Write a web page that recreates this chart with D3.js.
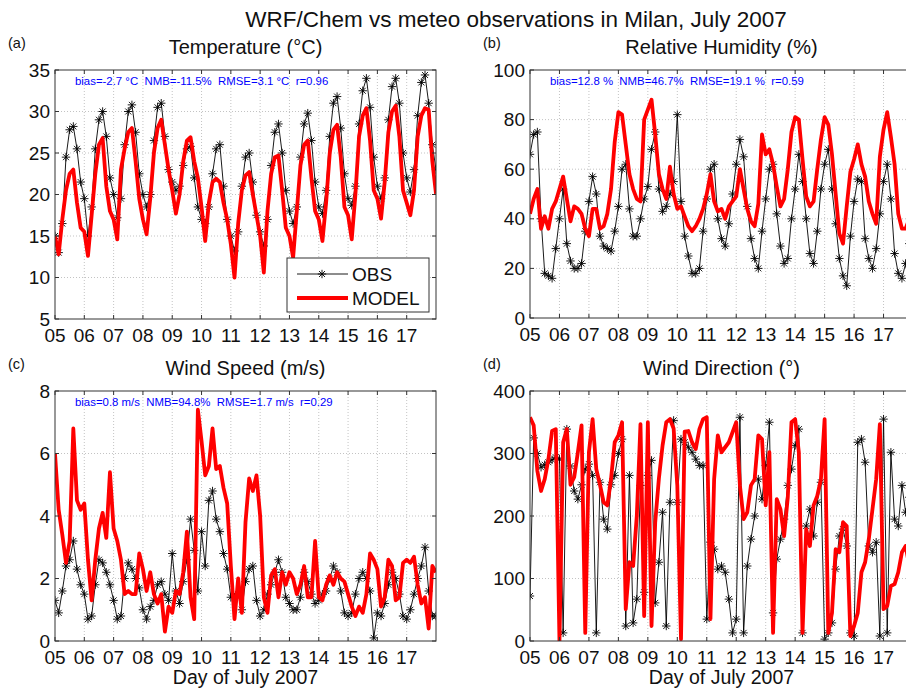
<!DOCTYPE html>
<html><head><meta charset="utf-8">
<script src="https://cdn.jsdelivr.net/npm/d3@7"></script>
<style>body{margin:0;background:#fff} svg{display:block} text{font-family:"Liberation Sans",Arial,sans-serif} .pre{white-space:pre}</style>
</head><body><svg id="chart" width="906" height="690"></svg>
<script>
// ---- data (3-hourly samples starting at 5 July 00h) ----
const startDay = 5;
const stepDay = 0.125;
const dayTicks = [5,6,7,8,9,10,11,12,13,14,15,16,17];
const dayTickLabels = ["05","06","07","08","09","10","11","12","13","14","15","16","17"];

const tempObs = [
 15.0,13.0,16.5,24.5,27.8,28.2,25.5,21.5,
 19.5,15.0,18.5,25.5,29.0,30.0,27.0,22.0,
 20.0,17.2,19.5,26.0,30.0,30.8,27.5,22.5,
 20.0,18.5,20.0,26.5,30.5,31.0,27.0,23.0,
 21.5,20.5,21.0,23.5,25.5,25.8,22.0,18.5,
 17.0,16.5,18.5,22.5,25.5,26.0,21.0,17.0,
 15.0,13.2,15.5,21.0,24.5,25.0,21.5,17.5,
 15.5,13.8,17.0,23.5,27.5,28.5,25.0,20.5,
 18.0,16.5,18.5,24.5,28.5,29.8,26.5,21.5,
 18.5,17.7,20.5,27.0,31.0,31.8,28.0,22.5,
 19.5,18.7,21.0,28.5,32.5,34.0,30.5,24.5,
 21.0,19.5,22.0,29.0,33.0,34.0,31.0,25.0,
 22.0,20.3,23.0,29.5,33.5,34.4,31.0,26.0,
 23.0];
const tempMod = [
 15.0,12.8,17.0,20.5,22.5,23.0,19.0,16.0,
 15.5,12.6,17.5,22.5,26.0,26.8,21.0,18.0,
 17.0,14.6,23.0,25.5,27.5,28.0,24.0,19.5,
 17.0,15.2,19.5,25.0,28.0,29.0,26.0,23.0,
 20.5,17.7,20.0,24.0,26.5,26.9,24.0,22.0,
 18.5,14.4,19.0,21.5,21.9,21.5,19.0,17.0,
 14.0,10.0,16.5,20.5,22.3,22.7,20.0,17.5,
 15.0,10.6,18.0,22.5,24.5,24.7,20.5,16.0,
 15.0,12.4,18.0,23.5,26.0,26.5,22.0,18.0,
 17.0,14.4,19.0,25.0,27.8,28.4,24.5,18.5,
 17.5,14.6,20.0,27.0,29.5,30.4,26.5,20.5,
 19.5,17.1,21.5,27.5,30.0,30.7,27.0,20.5,
 19.0,17.5,20.5,27.0,29.5,30.4,30.2,24.0,
 20.1];

const rhObs = [
 66,74,75,40,18,17,16,28,
 40,52,30,23,20,20,22,35,
 47,57,50,33,29,28,27,35,
 45,60,62,44,33,33,40,48,
 53,68,75,52,43,45,50,55,
 82,47,33,25,18,18,20,35,
 48,60,62,40,32,29,38,50,
 62,72,65,45,32,24,20,35,
 48,60,62,42,29,22,24,40,
 52,66,55,40,26,22,35,52,
 62,68,52,38,24,17,13,33,
 47,56,55,32,24,20,28,42,
 55,62,48,26,18,16,22,30,
 38];
const rhMod = [
 42,48,52,36,41,36,44,47,
 52,57,48,39,45,44,42,36,
 33,44,44,36,37,42,52,71,
 83,82,70,58,52,48,47,80,
 84,88,74,58,52,48,61,50,
 44,45,41,37,35,37,40,44,
 50,58,47,43,44,40,45,47,
 49,60,52,44,39,37,46,74,
 66,68,62,53,45,48,60,75,
 81,80,64,49,45,47,60,72,
 81,78,66,50,34,30,45,59,
 64,70,62,57,47,42,38,65,
 76,83,73,62,42,36,36,40,
 44];

const wsObs = [
 1.3,0.9,1.6,2.4,2.6,3.2,2.3,1.8,
 1.5,0.7,0.8,1.8,2.6,2.5,2.2,1.8,
 1.3,0.7,0.8,2.0,2.5,2.3,2.0,1.7,
 1.0,0.7,1.1,1.3,1.8,1.9,1.5,1.3,
 2.8,1.6,1.2,1.9,2.6,3.9,2.9,1.6,
 3.5,2.4,4.5,4.8,3.9,3.5,2.8,2.3,
 1.4,1.4,1.5,1.0,1.9,2.3,2.4,1.3,
 0.8,1.0,1.5,1.8,2.2,2.6,2.2,1.4,
 1.2,1.0,1.0,1.4,2.2,1.9,1.5,1.2,
 1.3,1.5,1.6,2.0,2.4,2.2,1.6,0.9,
 0.8,0.9,1.5,2.0,2.2,2.0,1.6,0.1,
 0.9,0.8,1.2,1.8,2.2,2.0,1.5,0.8,
 0.7,1.0,1.5,2.0,2.4,3.0,1.6,0.8,
 0.8];
const wsMod = [
 6.0,4.2,3.4,2.5,3.2,6.8,4.5,4.2,
 4.4,2.6,1.3,2.6,3.6,4.1,3.3,5.4,
 3.6,3.2,2.6,1.5,1.6,1.5,1.5,2.8,
 2.3,1.6,2.2,1.5,1.2,1.5,0.3,1.1,
 0.9,1.6,1.5,2.2,3.5,1.4,0.7,7.4,
 6.4,5.3,5.6,6.8,5.5,5.6,4.9,4.4,
 2.4,0.7,2.0,0.9,3.8,5.2,4.8,5.3,
 4.0,1.4,0.9,2.1,2.3,1.4,2.2,1.8,
 2.2,2.0,1.5,1.8,2.4,1.4,1.4,3.2,
 1.4,1.3,1.8,2.1,1.8,2.2,2.0,1.9,
 1.5,1.1,0.8,1.1,0.9,1.5,2.8,2.6,
 2.3,1.1,1.4,2.6,2.4,1.3,1.4,2.5,
 2.6,2.5,2.7,1.8,1.2,1.4,0.4,2.4,
 2.2];

const wdObs = [
 72,325,300,278,282,286,290,294,
 291,13,339,280,240,227,250,275,
 283,265,13,254,195,179,250,265,
 300,323,24,265,29,67,249,78,
 265,289,61,126,206,24,222,353,
 222,323,318,310,302,291,281,281,
 35,158,147,115,120,110,67,13,
 35,358,13,120,163,200,259,227,
 281,350,45,131,163,195,249,275,
 313,339,13,184,211,168,222,254,
 3,13,29,115,168,179,152,13,
 8,318,323,286,152,142,158,8,
 355,13,302,195,184,249,206,230,
 250];
const wdMod = [
 358,345,272,240,259,291,336,339,
 0,318,339,250,262,302,345,13,
 302,355,275,250,222,217,259,318,
 329,350,51,126,120,200,347,40,
 350,24,190,260,313,350,355,340,
 249,3,335,336,318,307,339,355,
 358,35,259,329,302,310,318,334,
 350,249,195,206,249,259,329,323,
 217,302,13,227,211,168,230,350,
 355,302,13,179,152,217,232,259,
 355,13,45,147,142,190,184,8,
 24,45,110,126,163,211,259,347,
 51,56,88,91,110,142,152,120,
 40];

// ---- layout / style config ----
const panels = [
  {label:"(a)", title:"Temperature (°C)", obs:tempObs, mod:tempMod,
   y:[5,35], yTicks:[5,10,15,20,25,30,35],
   stats:"bias=-2.7 °C  NMB=-11.5%  RMSE=3.1 °C  r=0.96",
   x0:55, y0:70, w:381, h:249, legend:true, xlabel:false},
  {label:"(b)", title:"Relative Humidity (%)", obs:rhObs, mod:rhMod,
   y:[0,100], yTicks:[0,20,40,60,80,100],
   stats:"bias=12.8 %  NMB=46.7%  RMSE=19.1 %  r=0.59",
   x0:530, y0:70, w:383, h:248, legend:false, xlabel:false},
  {label:"(c)", title:"Wind Speed (m/s)", obs:wsObs, mod:wsMod,
   y:[0,8], yTicks:[0,2,4,6,8],
   stats:"bias=0.8 m/s  NMB=94.8%  RMSE=1.7 m/s  r=0.29",
   x0:55, y0:391, w:381, h:250, legend:false, xlabel:true},
  {label:"(d)", title:"Wind Direction (°)", obs:wdObs, mod:wdMod,
   y:[0,400], yTicks:[0,100,200,300,400],
   stats:null,
   x0:530, y0:391, w:383, h:250, legend:false, xlabel:true}
];

const svg = d3.select("#chart");
svg.append("rect").attr("width",906).attr("height",690).attr("fill","#fff");

svg.append("text").attr("x",516).attr("y",27).attr("text-anchor","middle")
  .attr("font-size",22.5).attr("fill","#111")
  .text("WRF/Chem vs meteo observations in Milan, July 2007");

const star = "M-4.2,0H4.2M0,-4.2V4.2M-3,-3L3,3M-3,3L3,-3";

panels.forEach((p,pi)=>{
  const x = d3.scaleLinear().domain([5,18]).range([p.x0, p.x0+p.w]);
  const y = d3.scaleLinear().domain(p.y).range([p.y0+p.h, p.y0]);
  const g = svg.append("g");
  const clipId = "clip"+pi;
  svg.append("clipPath").attr("id",clipId).append("rect")
    .attr("x",p.x0).attr("y",p.y0).attr("width",p.w).attr("height",p.h);

  // grid
  const grid = g.append("g").attr("stroke","#b4b4b4").attr("stroke-width",0.8).attr("stroke-dasharray","1,2");
  dayTicks.slice(1).forEach(d=>grid.append("line").attr("x1",x(d)).attr("x2",x(d)).attr("y1",p.y0).attr("y2",p.y0+p.h));
  p.yTicks.slice(1,-1).forEach(v=>grid.append("line").attr("y1",y(v)).attr("y2",y(v)).attr("x1",p.x0).attr("x2",p.x0+p.w));

  // stats text (under data)
  if (p.stats) {
    g.append("text").attr("class","pre").attr("xml:space","preserve")
      .attr("x",p.x0+20).attr("y",p.y0+15).attr("font-size",11.4)
      .attr("fill","#0000ff").text(p.stats);
  }

  // data
  const t = i => startDay + i*stepDay;
  const line = d3.line().x((d,i)=>x(t(i))).y(d=>y(d));
  const dg = g.append("g").attr("clip-path",`url(#${clipId})`);
  dg.append("path").datum(p.obs).attr("d",line).attr("fill","none")
    .attr("stroke","#000").attr("stroke-width",0.9);
  dg.selectAll("path.m").data(p.obs).enter().append("path").attr("class","m")
    .attr("transform",(d,i)=>`translate(${x(t(i))},${y(d)})`)
    .attr("d",star).attr("stroke","#000").attr("stroke-width",0.9).attr("fill","none");
  dg.append("path").datum(p.mod).attr("d",line).attr("fill","none")
    .attr("stroke","#ff0000").attr("stroke-width",3.8).attr("stroke-linejoin","round");

  // axes box
  g.append("rect").attr("x",p.x0).attr("y",p.y0).attr("width",p.w).attr("height",p.h)
    .attr("fill","none").attr("stroke","#333").attr("stroke-width",1);

  // ticks (inward, bottom/top and left/right)
  const tk = g.append("g").attr("stroke","#333").attr("stroke-width",1);
  dayTicks.forEach(d=>{
    tk.append("line").attr("x1",x(d)).attr("x2",x(d)).attr("y1",p.y0+p.h).attr("y2",p.y0+p.h-4);
    tk.append("line").attr("x1",x(d)).attr("x2",x(d)).attr("y1",p.y0).attr("y2",p.y0+4);
  });
  p.yTicks.forEach(v=>{
    tk.append("line").attr("x1",p.x0).attr("x2",p.x0+4).attr("y1",y(v)).attr("y2",y(v));
    tk.append("line").attr("x1",p.x0+p.w).attr("x2",p.x0+p.w-4).attr("y1",y(v)).attr("y2",y(v));
  });

  // tick labels
  dayTicks.forEach((d,i)=>{
    g.append("text").attr("x",x(d)).attr("y",p.y0+p.h+23).attr("text-anchor","middle")
      .attr("font-size",19).attr("fill","#111").text(dayTickLabels[i]);
  });
  p.yTicks.forEach(v=>{
    g.append("text").attr("x",p.x0-5).attr("y",y(v)+6.5).attr("text-anchor","end")
      .attr("font-size",19).attr("fill","#111").text(v);
  });

  // titles
  g.append("text").attr("x",p.x0+p.w/2).attr("y",p.y0-16).attr("text-anchor","middle")
    .attr("font-size",20).attr("fill","#111").text(p.title);
  g.append("text").attr("x",p.x0-47).attr("y",p.y0-22).attr("font-size",14.5)
    .attr("fill","#111").text(p.label);
  if (p.xlabel) {
    g.append("text").attr("x",p.x0+p.w/2).attr("y",684).attr("text-anchor","middle")
      .attr("font-size",19.5).attr("fill","#111").text("Day of July 2007");
  }

  // legend
  if (p.legend) {
    const L = g.append("g");
    L.append("rect").attr("x",287).attr("y",258).attr("width",142).attr("height",54)
      .attr("fill","#fff").attr("stroke","#333").attr("stroke-width",1);
    L.append("line").attr("x1",297).attr("x2",348).attr("y1",274).attr("y2",274)
      .attr("stroke","#000").attr("stroke-width",0.9);
    L.append("path").attr("d",star).attr("transform","translate(322,274)")
      .attr("stroke","#000").attr("stroke-width",0.9);
    L.append("line").attr("x1",297).attr("x2",348).attr("y1",298).attr("y2",298)
      .attr("stroke","#ff0000").attr("stroke-width",3.8);
    L.append("text").attr("x",352).attr("y",281).attr("font-size",19).attr("fill","#111").text("OBS");
    L.append("text").attr("x",352).attr("y",305).attr("font-size",19).attr("fill","#111").text("MODEL");
  }
});
</script></body></html>
